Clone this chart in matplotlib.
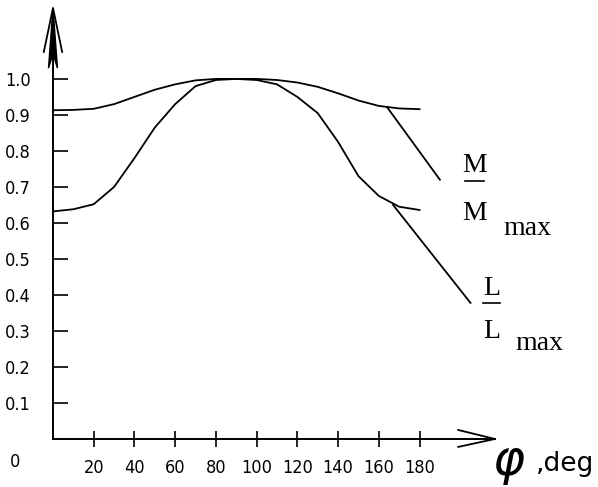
import numpy as np
import matplotlib.pyplot as plt
from matplotlib.patches import Polygon

# angle in degrees
phi = [0, 10, 20, 30, 40, 50, 60, 70, 80, 90, 100, 110, 120, 130, 140, 150, 160, 170, 180]
# M / M_max
m_ratio = [0.913, 0.914, 0.917, 0.930, 0.950, 0.970, 0.985, 0.996, 1.0, 1.0, 1.0,
           0.997, 0.990, 0.978, 0.960, 0.940, 0.925, 0.918, 0.916]
# L / L_max
l_ratio = [0.632, 0.638, 0.652, 0.700, 0.780, 0.865, 0.930, 0.980, 0.997, 1.0, 0.997,
           0.985, 0.950, 0.905, 0.825, 0.730, 0.675, 0.645, 0.636]

x_ticks = [20, 40, 60, 80, 100, 120, 140, 160, 180]
y_ticks = [0.1, 0.2, 0.3, 0.4, 0.5, 0.6, 0.7, 0.8, 0.9, 1.0]
y_labels = ['0.1', '0.2', '0.3', '0.4', '0.5', '0.6', '0.7', '0.8', '0.9', '1.0']

# leader lines from curve to label: (start, end)
m_leader = [(164, 0.922), (190, 0.72)]
l_leader = [(167, 0.65), (205, 0.378)]

tick_font = {'family': ['DejaVu Sans Condensed', 'Liberation Sans Narrow', 'DejaVu Sans'],
             'size': 13, 'stretch': 'condensed'}
serif = ['Liberation Serif', 'DejaVu Serif']

fig = plt.figure(figsize=(5.98, 4.87), dpi=100)
ax = fig.add_axes([0.0886, 0.0986, 0.739, 0.885])
x_max, y_max = 217, 1.197
ax.set_xlim(0, x_max)
ax.set_ylim(0, y_max)
for s in ax.spines.values():
    s.set_visible(False)

# curves
ax.plot(phi, m_ratio, color='black', lw=1.3)
ax.plot(phi, l_ratio, color='black', lw=1.3)
ax.plot(*zip(*m_leader), color='black', lw=1.3)
ax.plot(*zip(*l_leader), color='black', lw=1.3)

# axes lines with arrows
ax.plot([0, 0], [0, y_max - 0.02], color='black', lw=1.4, clip_on=False)
ax.plot([0, x_max], [0, 0], color='black', lw=1.4, clip_on=False)
ax.add_patch(Polygon([(0, y_max), (-2.2, 1.03), (0, 1.07), (2.2, 1.03)],
                     closed=True, color='black', clip_on=False))
ax.plot([-4.5, 0, 4.5], [1.075, y_max, 1.075], color='black', lw=1.3, clip_on=False)
ax.plot([x_max - 18, x_max, x_max - 18], [0.025, 0, -0.022], color='black', lw=1.3, clip_on=False)

# ticks
ax.set_xticks(x_ticks)
ax.set_xticklabels([str(v) for v in x_ticks], fontdict=tick_font)
ax.set_yticks(y_ticks)
ax.set_yticklabels(y_labels, fontdict=tick_font)
ax.tick_params(axis='x', direction='inout', length=11, width=1.2, pad=9)
ax.tick_params(axis='y', direction='in', length=11, width=1.2, pad=16)
ax.text(-18.5, -0.064, '0', fontdict=tick_font, ha='center', va='center', clip_on=False)

# axis label
ax.text(215.5, -0.068, r'$\varphi$', fontsize=35, ha='left', va='center',
        fontfamily='DejaVu Sans', clip_on=False)
ax.text(237, -0.09, ',deg', fontsize=19, ha='left', va='baseline',
        fontfamily='DejaVu Sans', clip_on=False)

# curve labels
ax.text(207, 0.742, 'M', fontsize=20, family=serif, ha='center', va='baseline', clip_on=False)
ax.plot([202.5, 211.5], [0.717, 0.717], color='black', lw=1.2, clip_on=False)
ax.text(207, 0.608, 'M', fontsize=20, family=serif, ha='center', va='baseline', clip_on=False)
ax.text(232.7, 0.567, 'max', fontsize=20, family=serif, ha='center', va='baseline', clip_on=False)

ax.text(215.3, 0.40, 'L', fontsize=20, family=serif, ha='center', va='baseline', clip_on=False)
ax.plot([211, 219.5], [0.378, 0.378], color='black', lw=1.2, clip_on=False)
ax.text(215.3, 0.281, 'L', fontsize=20, family=serif, ha='center', va='baseline', clip_on=False)
ax.text(239, 0.247, 'max', fontsize=20, family=serif, ha='center', va='baseline', clip_on=False)

fig.savefig('out.png', dpi=100)
